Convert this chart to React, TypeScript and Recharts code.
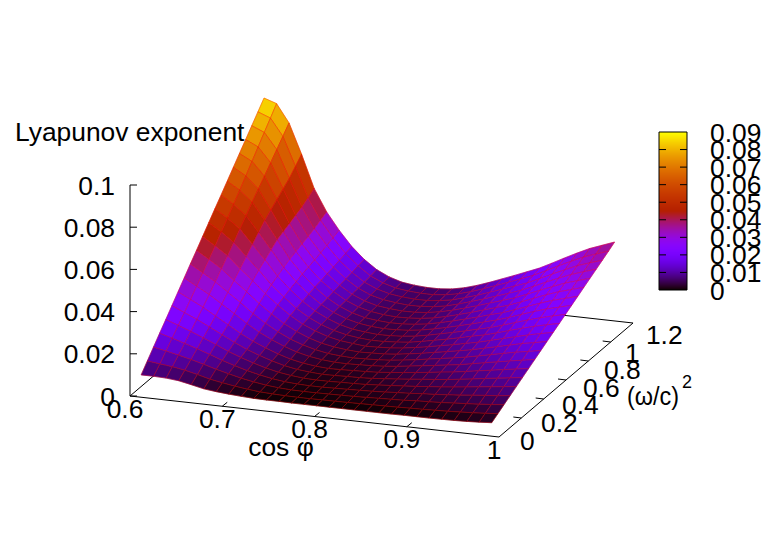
import React from 'react';
import { ScatterChart, Scatter, XAxis, YAxis, ReferenceLine, ReferenceArea, Polygon } from 'recharts';

const W = 763;
const H = 534;

// cos(phi) samples (columns) and (omega/c)^2 samples (rows)
const cosPhi = [0.6, 0.6136, 0.6271, 0.6407, 0.6543, 0.6679, 0.6814, 0.695, 0.7086, 0.7221, 0.7357, 0.7493, 0.7629, 0.7764, 0.79, 0.8036, 0.8171, 0.8307, 0.8443, 0.8579, 0.8714, 0.885, 0.8986, 0.9121, 0.9257, 0.9393, 0.9529, 0.9664, 0.98];
const omega2 = [0.1, 0.155, 0.21, 0.265, 0.32, 0.375, 0.43, 0.485, 0.54, 0.595, 0.65, 0.705, 0.76, 0.815, 0.87, 0.925, 0.98, 1.035, 1.09, 1.145, 1.2];

// Lyapunov exponent, in units of 1e-4; one list per cos(phi) sample, ordered by omega2
const zUnit = 1e-4;
const z00 = [55, 96, 137, 178, 218, 259, 300, 341, 382, 422, 463, 504, 545, 585, 626, 667, 708, 749, 790, 831, 872];
const z01 = [55, 89, 125, 161, 197, 233, 270, 308, 347, 386, 425, 466, 507, 548, 590, 633, 677, 721, 765, 808, 852];
const z02 = [53, 82, 112, 143, 175, 207, 240, 275, 311, 348, 385, 423, 462, 501, 540, 577, 614, 652, 690, 728, 767];
const z03 = [47, 72, 98, 124, 151, 178, 205, 237, 268, 299, 330, 363, 396, 428, 460, 485, 510, 535, 560, 592, 625];
const z04 = [35, 58, 82, 104, 126, 148, 170, 198, 226, 253, 280, 305, 329, 352, 375, 388, 402, 416, 430, 449, 470];
const z05 = [22, 43, 65, 82, 100, 118, 135, 158, 180, 203, 225, 242, 259, 275, 290, 301, 312, 323, 335, 350, 365];
const z06 = [15, 32, 50, 64, 78, 91, 105, 123, 141, 160, 178, 191, 203, 214, 225, 234, 243, 252, 262, 273, 285];
const z07 = [10, 23, 36, 47, 58, 69, 80, 94, 107, 121, 135, 144, 153, 162, 170, 177, 184, 191, 198, 206, 215];
const z08 = [6, 15, 25, 33, 41, 50, 58, 69, 79, 90, 100, 107, 113, 119, 125, 131, 136, 142, 148, 154, 160];
const z09 = [3, 9, 16, 22, 28, 34, 40, 49, 58, 66, 75, 80, 84, 88, 92, 96, 100, 104, 108, 113, 118];
const z10 = [2, 6, 10, 14, 19, 23, 28, 35, 42, 48, 55, 59, 62, 65, 68, 71, 75, 78, 82, 86, 90];
const z11 = [2, 4, 7, 10, 13, 17, 20, 26, 31, 37, 42, 45, 47, 50, 52, 56, 59, 63, 66, 69, 72];
const z12 = [1, 3, 6, 8, 11, 13, 16, 21, 26, 30, 35, 37, 40, 42, 45, 48, 52, 55, 58, 61, 64];
const z13 = [1, 3, 6, 8, 11, 14, 17, 20, 23, 26, 29, 32, 35, 38, 41, 44, 47, 50, 54, 57, 60];
const z14 = [1, 4, 7, 10, 13, 16, 19, 22, 25, 28, 31, 33, 36, 39, 42, 45, 48, 51, 54, 57, 60];
const z15 = [1, 4, 8, 11, 14, 17, 21, 24, 27, 30, 34, 37, 40, 43, 47, 50, 53, 56, 60, 63, 66];
const z16 = [1, 5, 9, 13, 16, 20, 24, 28, 32, 36, 40, 43, 47, 51, 55, 59, 63, 66, 70, 74, 78];
const z17 = [1, 6, 11, 15, 20, 25, 30, 34, 39, 44, 49, 53, 58, 63, 68, 72, 77, 82, 87, 91, 96];
const z18 = [1, 7, 13, 18, 24, 30, 36, 42, 47, 53, 59, 65, 71, 76, 82, 88, 94, 100, 105, 111, 117];
const z19 = [1, 8, 15, 22, 29, 36, 43, 50, 57, 64, 71, 77, 84, 91, 98, 105, 112, 119, 126, 133, 140];
const z20 = [1, 9, 17, 25, 33, 42, 50, 58, 66, 74, 82, 90, 98, 106, 114, 123, 131, 139, 147, 155, 163];
const z21 = [2, 11, 21, 30, 39, 48, 58, 67, 76, 85, 95, 104, 113, 122, 132, 141, 150, 159, 169, 178, 187];
const z22 = [2, 12, 23, 33, 44, 54, 65, 75, 86, 96, 107, 117, 127, 138, 148, 159, 169, 180, 190, 201, 211];
const z23 = [2, 14, 26, 38, 50, 62, 74, 86, 98, 110, 122, 133, 145, 157, 169, 181, 193, 205, 217, 229, 241];
const z24 = [3, 16, 30, 43, 57, 70, 84, 97, 111, 124, 138, 151, 164, 178, 191, 205, 218, 232, 245, 259, 272];
const z25 = [4, 19, 34, 49, 64, 79, 93, 108, 123, 138, 153, 168, 183, 198, 213, 228, 242, 257, 272, 287, 302];
const z26 = [6, 22, 38, 55, 71, 87, 103, 119, 136, 152, 168, 184, 200, 217, 233, 249, 265, 281, 298, 314, 330];
const z27 = [9, 26, 43, 60, 78, 95, 112, 129, 146, 163, 181, 198, 215, 232, 249, 266, 283, 301, 318, 335, 352];
const z28 = [13, 31, 49, 67, 85, 103, 121, 139, 157, 175, 193, 211, 229, 247, 265, 283, 301, 319, 337, 355, 374];
const zColumns = [z00, z01, z02, z03, z04, z05, z06, z07, z08, z09, z10, z11, z12, z13, z14, z15, z16, z17, z18, z19, z20, z21, z22, z23, z24, z25, z26, z27, z28];

// tick labels
const cosTicks = [0.6, 0.7, 0.8, 0.9, 1];
const omegaTicks = [0, 0.2, 0.4, 0.6, 0.8, 1, 1.2];
const zTicks = [0, 0.02, 0.04, 0.06, 0.08, 0.1];
const cbTicks = [0, 0.01, 0.02, 0.03, 0.04, 0.05, 0.06, 0.07, 0.08, 0.09];

const FONT = '"Liberation Sans", Arial, sans-serif';
const FS = 26.4;
const CB_MAX = 0.09;
const CB = { x1: 659, x2: 687, y1: 132, y2: 290 };

// orthographic view: the plot plane in which the chart's two scales work
const project = (c: number, w: number, z: number) => ({
  sx: 130 + 922.5 * (c - 0.6) + 111.7 * w,
  sy: 396 + 102.5 * (c - 0.6) - 95 * w - 2110 * z,
});

// gnuplot palette rgbformulae 7,5,15
const palette = (v: number) => {
  const g = Math.max(0, Math.min(1, v / CB_MAX));
  const r = Math.sqrt(g);
  const gg = g * g * g;
  const b = Math.max(0, Math.sin(2 * Math.PI * g));
  return `rgb(${Math.round(r * 255)},${Math.round(gg * 255)},${Math.round(b * 255)})`;
};

type Quad = { sx: number; sy: number; pts: { sx: number; sy: number }[]; fill: string };

// painter's order: far corner (low cos, high omega) first
const quads: Quad[] = [];
for (let j = omega2.length - 2; j >= 0; j--) {
  for (let i = 0; i < cosPhi.length - 1; i++) {
    const corners: [number, number][] = [[i, j], [i + 1, j], [i + 1, j + 1], [i, j + 1]];
    const pts = corners.map(([a, b]) => project(cosPhi[a], omega2[b], zColumns[a][b] * zUnit));
    const mean = corners.reduce((s, [a, b]) => s + zColumns[a][b] * zUnit, 0) / 4;
    quads.push({
      sx: pts.reduce((s, p) => s + p.sx, 0) / 4,
      sy: pts.reduce((s, p) => s + p.sy, 0) / 4,
      pts,
      fill: palette(mean),
    });
  }
}

const QuadShape = (p: any) => {
  const q: Quad = p.payload;
  // the chart's scales are 1:1 with the plane by construction: offsets stay in step with cx, cy
  const points = q.pts.map((c) => ({ x: p.cx + (c.sx - q.sx), y: p.cy + (c.sy - q.sy) }));
  return (
    <g>
      <Polygon points={points} fill={q.fill} stroke={q.fill} strokeWidth={0.6} />
      <Polygon points={points} fill="none" stroke="#ff0000" strokeOpacity={0.5} strokeWidth={0.7} />
    </g>
  );
};

type Lab = { sx: number; sy: number; text: string; anchor?: string; size?: number; fit?: number };
const fmt = (v: number) => String(v);
const labels: Lab[] = [
  ...zTicks.map((t) => ({ sx: 115, sy: project(0.6, 0, t).sy, text: fmt(t), anchor: 'end' })),
  ...cosTicks.map((t) => {
    const b = project(t, 0, 0);
    return { sx: b.sx - 5, sy: b.sy + 12, text: fmt(t), anchor: 'middle' };
  }),
  ...omegaTicks.map((t) => {
    const b = project(1, t, 0);
    return { sx: b.sx + 21 - 6.8 * t, sy: b.sy + 3 + 7 * t, text: fmt(t), anchor: 'start' };
  }),
  ...cbTicks.map((t) => ({ sx: 710, sy: CB.y2 - ((CB.y2 - CB.y1) * t) / CB_MAX, text: fmt(t), anchor: 'start' })),
  { sx: 15, sy: 131, text: 'Lyapunov exponent', anchor: 'start' },
  { sx: 281, sy: 446, text: 'cos φ', anchor: 'middle' },
  { sx: 627, sy: 395, text: '(ω/c)', anchor: 'start', fit: 52 },
  { sx: 682, sy: 382, text: '2', anchor: 'start', size: 18 },
];

const LabelShape = (p: any) => {
  const l: Lab = p.payload;
  return (
    <text
      x={p.cx}
      y={p.cy}
      dy="0.36em"
      textAnchor={l.anchor}
      fontFamily={FONT}
      fontSize={l.size ?? FS}
      fill="#000"
      textLength={l.fit}
      lengthAdjust={l.fit ? 'spacingAndGlyphs' : undefined}
    >
      {l.text}
    </text>
  );
};

const seg = (a: { sx: number; sy: number }, b: { sx: number; sy: number }) => [
  { x: a.sx, y: a.sy },
  { x: b.sx, y: b.sy },
];

const baseCorners = [project(0.6, 0, 0), project(1, 0, 0), project(1, 1.2, 0), project(0.6, 1.2, 0)];
const segments: { x: number; y: number }[][] = [
  seg(baseCorners[0], baseCorners[1]),
  seg(baseCorners[1], baseCorners[2]),
  seg(baseCorners[2], baseCorners[3]),
  seg(baseCorners[3], baseCorners[0]),
  seg(project(0.6, 0, 0), project(0.6, 0, 0.1)),
  ...zTicks.map((t) => {
    const a = project(0.6, 0, t);
    return seg(a, { sx: a.sx + 7, sy: a.sy });
  }),
  ...cosTicks.slice(1, -1).map((t) => {
    const a = project(t, 0, 0);
    return seg(a, { sx: a.sx + 5, sy: a.sy - 4 });
  }),
  ...omegaTicks.slice(1, -1).map((t) => {
    const a = project(1, t, 0);
    return seg(a, { sx: a.sx - 8, sy: a.sy - 1 });
  }),
];

const cbLevels: number[] = [];
for (let y = CB.y1; y < CB.y2; y++) cbLevels.push(y);

const cbTickSegs = cbTicks.slice(1, -1).flatMap((t) => {
  const y = CB.y2 - ((CB.y2 - CB.y1) * t) / CB_MAX;
  return [
    [{ x: CB.x1, y }, { x: CB.x1 + 7, y }],
    [{ x: CB.x2 - 7, y }, { x: CB.x2, y }],
  ];
});

export default function App() {
  return (
    <div style={{ position: 'absolute', left: 0, top: 0, background: '#fff' }}>
      <ScatterChart width={W} height={H} margin={{ top: 0, right: 0, bottom: 0, left: 0 }}>
        <XAxis type="number" dataKey="sx" domain={[0, W]} hide allowDataOverflow />
        <YAxis type="number" dataKey="sy" domain={[0, H]} reversed hide allowDataOverflow />
        {segments.map((s, i) => (
          <ReferenceLine key={`s${i}`} segment={s} stroke="#000" strokeWidth={1} ifOverflow="visible" />
        ))}
        {cbLevels.map((y) => (
          <ReferenceArea
            key={`c${y}`}
            x1={CB.x1}
            x2={CB.x2}
            y1={y}
            y2={y + 1}
            fill={palette((CB_MAX * (CB.y2 - y - 0.5)) / (CB.y2 - CB.y1))}
            fillOpacity={1}
            stroke="none"
            ifOverflow="visible"
          />
        ))}
        <ReferenceArea x1={CB.x1} x2={CB.x2} y1={CB.y1} y2={CB.y2} fill="none" stroke="#000" strokeWidth={1} ifOverflow="visible" />
        {cbTickSegs.map((s, i) => (
          <ReferenceLine key={`t${i}`} segment={s} stroke="#000" strokeWidth={1} ifOverflow="visible" />
        ))}
        <Scatter name="surface" data={quads} shape={QuadShape} isAnimationActive={false} />
        <Scatter name="labels" data={labels} shape={LabelShape} isAnimationActive={false} />
      </ScatterChart>
    </div>
  );
}
